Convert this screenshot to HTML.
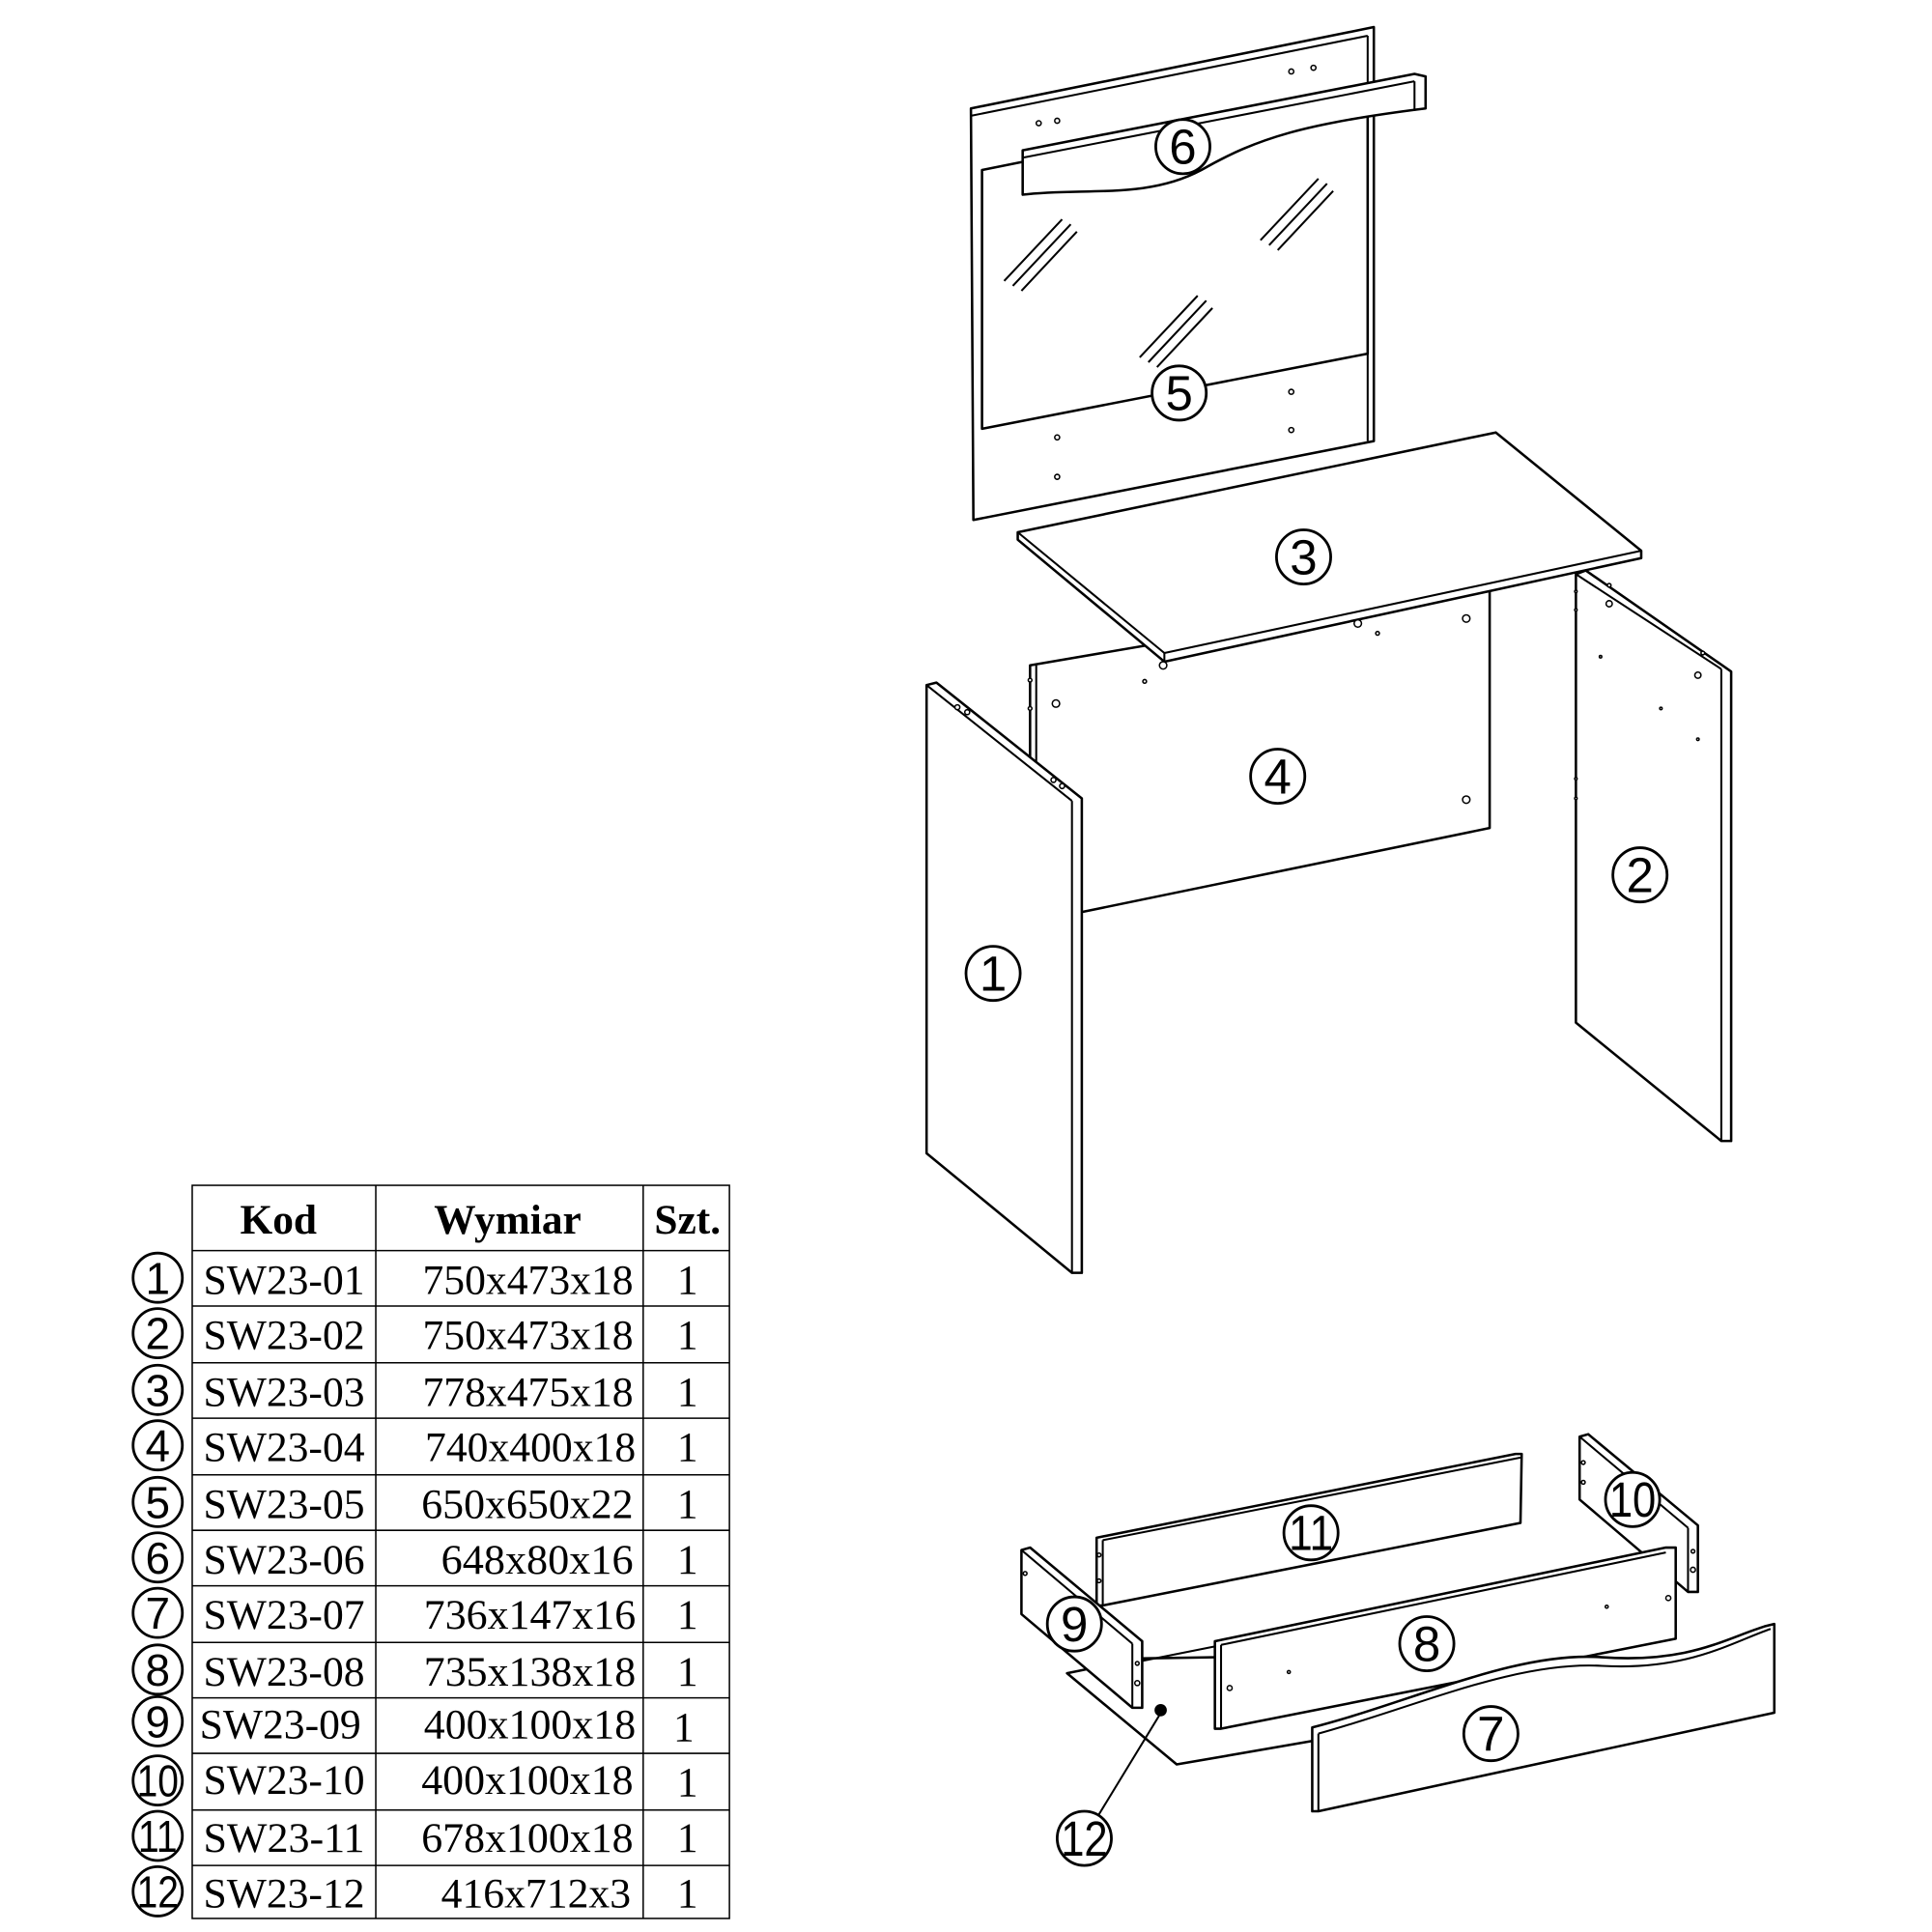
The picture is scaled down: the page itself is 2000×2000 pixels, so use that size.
<!DOCTYPE html>
<html><head><style>html,body{margin:0;padding:0;background:#fff}svg{display:block}</style></head>
<body>
<svg width="2000" height="2000" viewBox="0 0 1568 1568" xmlns="http://www.w3.org/2000/svg">
<defs><style>
.p{fill:#fff;stroke:#000;stroke-width:2;stroke-linejoin:round}
.l{fill:none;stroke:#000;stroke-width:1.6}
.h{fill:#fff;stroke:#000;stroke-width:1.2}
.c{fill:#fff;stroke:#000;stroke-width:2.2}
.n{font-family:"Liberation Sans",sans-serif;font-size:40px;text-anchor:middle}
.t{font-family:"Liberation Serif",serif;font-size:34px}
</style></defs>

<!-- Mirror panel -->
<polygon class="p" points="788,88 1115,22 1115,358 790,422"/>
<line class="l" x1="788" y1="94" x2="1110" y2="29"/>
<line class="l" x1="1110" y1="29" x2="1110" y2="358"/>
<polygon class="p" points="797,138 1110,75 1110,287 797,348"/>
<g class="l">
<line x1="815" y1="228" x2="862" y2="178"/><line x1="822" y1="232" x2="869" y2="182"/><line x1="829" y1="236" x2="874" y2="188"/>
<line x1="1023" y1="195" x2="1070" y2="145"/><line x1="1030" y1="199" x2="1077" y2="149"/><line x1="1037" y1="203" x2="1082" y2="155"/>
<line x1="925" y1="290" x2="972" y2="240"/><line x1="932" y1="294" x2="979" y2="244"/><line x1="939" y1="298" x2="984" y2="250"/>
</g>
<g class="h"><circle cx="843" cy="100" r="2"/><circle cx="858" cy="98" r="2"/><circle cx="1048" cy="58" r="2"/><circle cx="1066" cy="55" r="2"/>
<circle cx="858" cy="355" r="2"/><circle cx="858" cy="387" r="2"/><circle cx="1048" cy="318" r="2"/><circle cx="1048" cy="349" r="2"/></g>
<!-- bar 6 -->
<path class="p" d="M830,122 L1148,60 L1157,62 L1157,88 C1060,100 1020,112 975,138 C930,162 880,152 830,158 Z"/>
<line class="l" x1="830" y1="128" x2="1148" y2="66"/>
<line class="l" x1="1148" y1="66" x2="1148" y2="90"/>

<!-- back panel 4 -->
<polygon class="p" points="836,540 1209,476 1209,672 879,740 836,740"/>
<line class="l" x1="841" y1="540" x2="841" y2="625"/>
<g class="h"><circle cx="857" cy="571" r="3"/><circle cx="1190" cy="502" r="3"/><circle cx="1190" cy="649" r="3"/><circle cx="929" cy="553" r="1.5"/><circle cx="1118" cy="514" r="1.5"/>
<circle cx="836" cy="552" r="1.5"/><circle cx="836" cy="575" r="1.5"/></g>
<!-- top panel 3 -->
<polygon class="p" points="826,432 1214,351 1332,447 1332,453 945,537 826,438"/>
<line class="l" x1="826" y1="432" x2="945" y2="530"/><line class="l" x1="945" y1="530" x2="1332" y2="447"/><line class="l" x1="945" y1="530" x2="945" y2="537"/>
<g class="h"><circle cx="944" cy="540" r="3"/><circle cx="1102" cy="506" r="3"/></g>
<!-- side 2 -->
<polygon class="p" points="1279,466 1287,463 1405,545 1405,926 1397,926 1279,830"/>
<line class="l" x1="1279" y1="466" x2="1397" y2="543"/><line class="l" x1="1397" y1="543" x2="1397" y2="926"/>
<g class="h"><circle cx="1306" cy="490" r="2.5"/><circle cx="1306" cy="475" r="1.5"/><circle cx="1382" cy="530" r="1.5"/><circle cx="1378" cy="548" r="2.5"/><circle cx="1348" cy="575" r="1"/><circle cx="1378" cy="600" r="1"/><circle cx="1299" cy="533" r="1"/><circle cx="1279" cy="480" r="1"/><circle cx="1279" cy="495" r="1"/><circle cx="1279" cy="632" r="1"/><circle cx="1279" cy="648" r="1"/></g>
<!-- side 1 -->
<polygon class="p" points="752,556 760,554 878,648 878,1033 870,1033 752,936"/>
<line class="l" x1="752" y1="556" x2="870" y2="650"/><line class="l" x1="870" y1="650" x2="870" y2="1033"/>
<g class="h"><circle cx="777" cy="574" r="2"/><circle cx="785" cy="578" r="2"/><circle cx="855" cy="633" r="2"/><circle cx="862" cy="638" r="2"/></g>

<!-- drawer: bottom 12 -->
<polygon class="p" points="866,1358 925,1346 1300,1340 1065,1413 955,1432"/>
<line class="l" x1="927" y1="1348" x2="987" y2="1336"/>
<!-- 11 -->
<polygon class="p" points="890,1248 1230,1180 1235,1180 1234,1236 895,1303 890,1303"/>
<line class="l" x1="895" y1="1250" x2="1234" y2="1183"/><line class="l" x1="895" y1="1250" x2="895" y2="1303"/>
<g class="h"><circle cx="892" cy="1262" r="1.5"/><circle cx="892" cy="1283" r="1.5"/></g>
<!-- 10 -->
<polygon class="p" points="1282,1166 1289,1164 1378,1238 1378,1292 1370,1292 1282,1217"/>
<line class="l" x1="1282" y1="1166" x2="1370" y2="1240"/><line class="l" x1="1370" y1="1240" x2="1370" y2="1292"/>
<g class="h"><circle cx="1285" cy="1187" r="1.5"/><circle cx="1285" cy="1203" r="1.5"/><circle cx="1374" cy="1259" r="1.5"/><circle cx="1374" cy="1274" r="2"/></g>
<!-- 9 -->
<polygon class="p" points="829,1258 836,1256 927,1332 927,1386 919,1386 829,1310"/>
<line class="l" x1="829" y1="1258" x2="919" y2="1334"/><line class="l" x1="919" y1="1334" x2="919" y2="1386"/>
<g class="h"><circle cx="832" cy="1277" r="1.5"/><circle cx="923" cy="1350" r="1.5"/><circle cx="923" cy="1366" r="2"/></g>
<!-- 8 -->
<polygon class="p" points="986,1332 1352,1256 1360,1256 1360,1330 991,1403 986,1403"/>
<line class="l" x1="991" y1="1335" x2="1352" y2="1260"/><line class="l" x1="991" y1="1335" x2="991" y2="1403"/>
<g class="h"><circle cx="998" cy="1370" r="2"/><circle cx="1046" cy="1357" r="1.2"/><circle cx="1304" cy="1304" r="1.2"/><circle cx="1354" cy="1297" r="2"/></g>
<!-- 7 -->
<path class="p" d="M1065,1402 C1150,1380 1230,1340 1300,1345 C1370,1350 1400,1330 1432,1320 L1440,1318 L1440,1390 L1070,1470 L1065,1470 Z"/>
<path class="l" d="M1070,1407 C1150,1385 1230,1348 1300,1352 C1370,1356 1405,1333 1437,1322"/>
<line class="l" x1="1070" y1="1407" x2="1070" y2="1470"/>
<circle cx="942" cy="1388" r="5"/>
<line class="l" x1="941" y1="1392" x2="891" y2="1474"/>

<!-- labels -->
<g>
<circle class="c" cx="806" cy="790" r="22"/><text class="n" x="806" y="804">1</text>
<circle class="c" cx="1331" cy="710" r="22"/><text class="n" x="1331" y="724">2</text>
<circle class="c" cx="1058" cy="452" r="22"/><text class="n" x="1058" y="466">3</text>
<circle class="c" cx="1037" cy="630" r="22"/><text class="n" x="1037" y="644">4</text>
<circle class="c" cx="957" cy="319" r="22"/><text class="n" x="957" y="333">5</text>
<circle class="c" cx="960" cy="119" r="22"/><text class="n" x="960" y="133">6</text>
<circle class="c" cx="1210" cy="1407" r="22"/><text class="n" x="1210" y="1421">7</text>
<circle class="c" cx="1158" cy="1334" r="22"/><text class="n" x="1158" y="1348">8</text>
<circle class="c" cx="872" cy="1318" r="22"/><text class="n" x="872" y="1332">9</text>
<circle class="c" cx="1325" cy="1217" r="22"/><text class="n" x="1325" y="1231" textLength="38" lengthAdjust="spacingAndGlyphs">10</text>
<circle class="c" cx="1064" cy="1244" r="22"/><text class="n" x="1064" y="1258" textLength="36" lengthAdjust="spacingAndGlyphs">11</text>
<circle class="c" cx="880" cy="1492" r="22"/><text class="n" x="880" y="1506" textLength="38" lengthAdjust="spacingAndGlyphs">12</text>
</g>

<!-- table -->
<g stroke="#000" stroke-width="1.2" fill="none">
<rect x="156" y="962" width="436" height="595"/>
<line x1="305" y1="962" x2="305" y2="1557"/><line x1="522" y1="962" x2="522" y2="1557"/>
<line x1="156" y1="1015" x2="592" y2="1015"/><line x1="156" y1="1060" x2="592" y2="1060"/><line x1="156" y1="1106" x2="592" y2="1106"/><line x1="156" y1="1151" x2="592" y2="1151"/><line x1="156" y1="1197" x2="592" y2="1197"/><line x1="156" y1="1242" x2="592" y2="1242"/><line x1="156" y1="1287" x2="592" y2="1287"/><line x1="156" y1="1333" x2="592" y2="1333"/><line x1="156" y1="1378" x2="592" y2="1378"/><line x1="156" y1="1423" x2="592" y2="1423"/><line x1="156" y1="1469" x2="592" y2="1469"/><line x1="156" y1="1514" x2="592" y2="1514"/>
</g>
<g class="t"><text x="226" y="1001" text-anchor="middle" style="font-weight:bold">Kod</text><text x="412" y="1001" text-anchor="middle" style="font-weight:bold">Wymiar</text><text x="558" y="1001" text-anchor="middle" style="font-weight:bold">Szt.</text></g>
<g class="t">
<text x="165" y="1050" textLength="131" lengthAdjust="spacingAndGlyphs">SW23-01</text><text x="343" y="1050" textLength="171" lengthAdjust="spacingAndGlyphs">750x473x18</text><text x="558" y="1050" text-anchor="middle">1</text>
<text x="165" y="1095" textLength="131" lengthAdjust="spacingAndGlyphs">SW23-02</text><text x="343" y="1095" textLength="171" lengthAdjust="spacingAndGlyphs">750x473x18</text><text x="558" y="1095" text-anchor="middle">1</text>
<text x="165" y="1141" textLength="131" lengthAdjust="spacingAndGlyphs">SW23-03</text><text x="343" y="1141" textLength="171" lengthAdjust="spacingAndGlyphs">778x475x18</text><text x="558" y="1141" text-anchor="middle">1</text>
<text x="165" y="1186" textLength="131" lengthAdjust="spacingAndGlyphs">SW23-04</text><text x="345" y="1186" textLength="171" lengthAdjust="spacingAndGlyphs">740x400x18</text><text x="558" y="1186" text-anchor="middle">1</text>
<text x="165" y="1232" textLength="131" lengthAdjust="spacingAndGlyphs">SW23-05</text><text x="342" y="1232" textLength="172" lengthAdjust="spacingAndGlyphs">650x650x22</text><text x="558" y="1232" text-anchor="middle">1</text>
<text x="165" y="1277" textLength="131" lengthAdjust="spacingAndGlyphs">SW23-06</text><text x="358" y="1277" textLength="156" lengthAdjust="spacingAndGlyphs">648x80x16</text><text x="558" y="1277" text-anchor="middle">1</text>
<text x="165" y="1322" textLength="131" lengthAdjust="spacingAndGlyphs">SW23-07</text><text x="344" y="1322" textLength="172" lengthAdjust="spacingAndGlyphs">736x147x16</text><text x="558" y="1322" text-anchor="middle">1</text>
<text x="165" y="1368" textLength="131" lengthAdjust="spacingAndGlyphs">SW23-08</text><text x="344" y="1368" textLength="172" lengthAdjust="spacingAndGlyphs">735x138x18</text><text x="558" y="1368" text-anchor="middle">1</text>
<text x="162" y="1411" textLength="131" lengthAdjust="spacingAndGlyphs">SW23-09</text><text x="344" y="1411" textLength="172" lengthAdjust="spacingAndGlyphs">400x100x18</text><text x="555" y="1413" text-anchor="middle">1</text>
<text x="165" y="1456" textLength="131" lengthAdjust="spacingAndGlyphs">SW23-10</text><text x="342" y="1456" textLength="172" lengthAdjust="spacingAndGlyphs">400x100x18</text><text x="558" y="1458" text-anchor="middle">1</text>
<text x="165" y="1503" textLength="131" lengthAdjust="spacingAndGlyphs">SW23-11</text><text x="342" y="1503" textLength="172" lengthAdjust="spacingAndGlyphs">678x100x18</text><text x="558" y="1503" text-anchor="middle">1</text>
<text x="165" y="1548" textLength="131" lengthAdjust="spacingAndGlyphs">SW23-12</text><text x="358" y="1548" textLength="154" lengthAdjust="spacingAndGlyphs">416x712x3</text><text x="558" y="1548" text-anchor="middle">1</text>
</g>
<g>
<circle class="c" cx="128" cy="1037" r="20"/><text class="n" style="font-size:36px" x="128" y="1050">1</text>
<circle class="c" cx="128" cy="1082" r="20"/><text class="n" style="font-size:36px" x="128" y="1095">2</text>
<circle class="c" cx="128" cy="1128" r="20"/><text class="n" style="font-size:36px" x="128" y="1141">3</text>
<circle class="c" cx="128" cy="1173" r="20"/><text class="n" style="font-size:36px" x="128" y="1186">4</text>
<circle class="c" cx="128" cy="1219" r="20"/><text class="n" style="font-size:36px" x="128" y="1232">5</text>
<circle class="c" cx="128" cy="1264" r="20"/><text class="n" style="font-size:36px" x="128" y="1277">6</text>
<circle class="c" cx="128" cy="1309" r="20"/><text class="n" style="font-size:36px" x="128" y="1322">7</text>
<circle class="c" cx="128" cy="1355" r="20"/><text class="n" style="font-size:36px" x="128" y="1368">8</text>
<circle class="c" cx="128" cy="1397" r="20"/><text class="n" style="font-size:36px" x="128" y="1410">9</text>
<circle class="c" cx="128" cy="1445" r="20"/><text class="n" style="font-size:36px" x="128" y="1458" textLength="34" lengthAdjust="spacingAndGlyphs">10</text>
<circle class="c" cx="128" cy="1490" r="20"/><text class="n" style="font-size:36px" x="128" y="1503" textLength="32" lengthAdjust="spacingAndGlyphs">11</text>
<circle class="c" cx="128" cy="1535" r="20"/><text class="n" style="font-size:36px" x="128" y="1548" textLength="34" lengthAdjust="spacingAndGlyphs">12</text>
</g>
</svg>
</body></html>
